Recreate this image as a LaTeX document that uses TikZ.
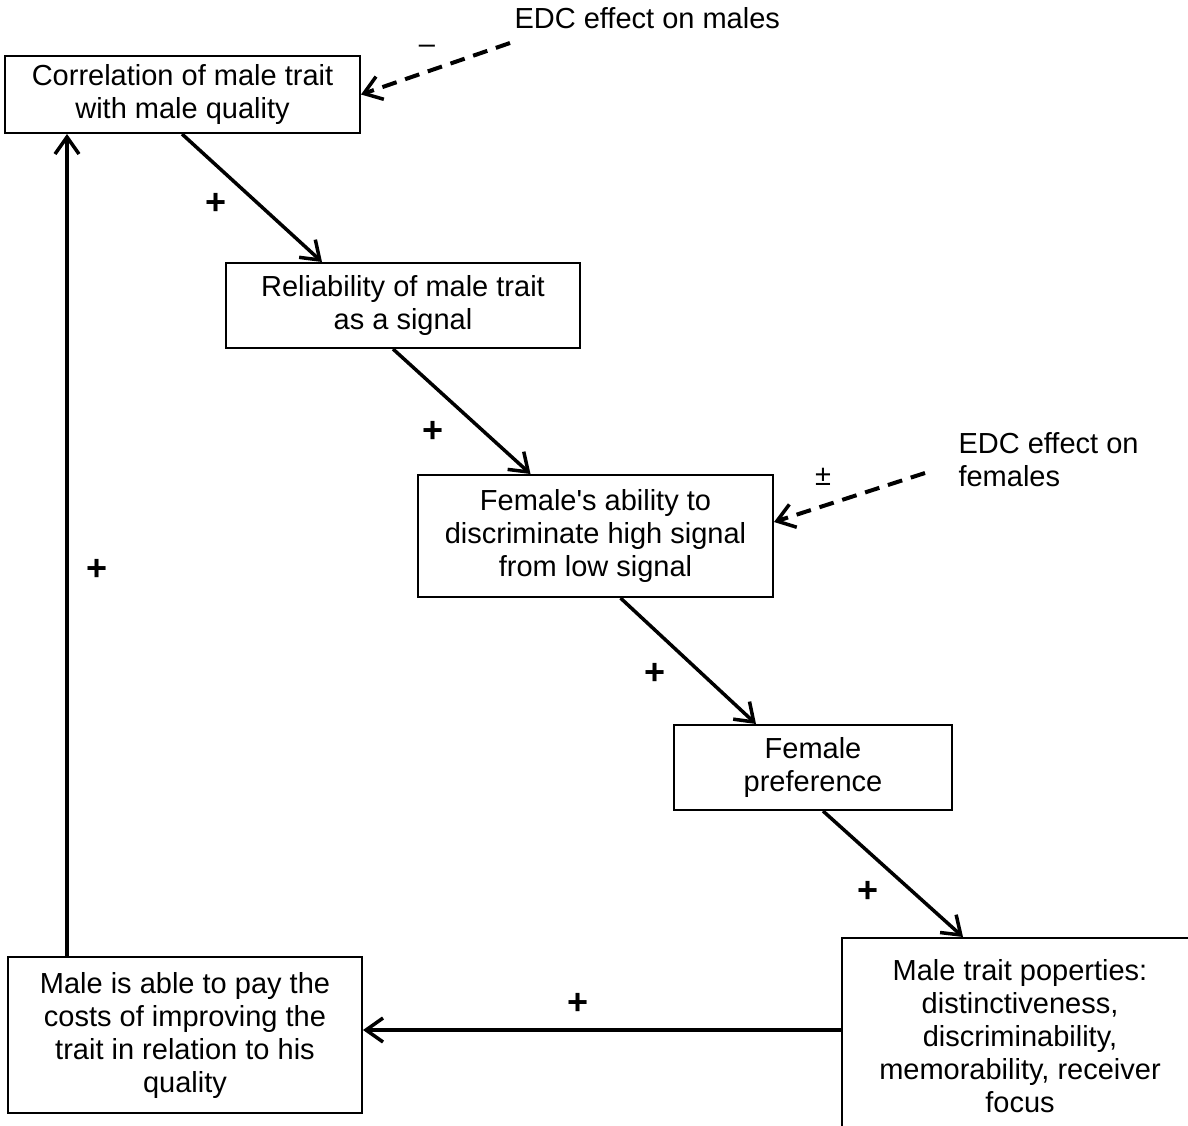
\documentclass[tikz,border=0pt]{standalone}
\usepackage{fontspec}
\setmainfont{Liberation Sans}[Ligatures=TeXOff]
\usetikzlibrary{arrows.meta,positioning}
\definecolor{ink}{HTML}{000000}
\tikzset{
  box/.style={draw=ink,line width=2pt,fill=white,inner sep=0pt,align=center,font=\fontsize{29}{33}\selectfont,text=ink},
  plain/.style={align=center,font=\fontsize{29}{33}\selectfont,text=ink},
  sign/.style={align=center,font=\fontsize{36}{40}\selectfont\bfseries,text=ink},
  ar/.style={-{Straight Barb[length=17pt,width=24pt,line width=3.5pt]},draw=ink,line width=3.5pt},
  arm/.style={ar,line width=4pt,dash pattern=on 15pt off 9pt},
}
\begin{document}
\begin{tikzpicture}[x=1pt,y=-1pt]
  \useasboundingbox (0,0) rectangle (1188,1126);
  \clip (0,0) rectangle (1188,1126);
  \node[box,minimum width=355pt,minimum height=77pt] (corr) at (182.5,94.5) {Correlation of male trait\\with male quality};
  \node[box,minimum width=354pt,minimum height=85pt] (reli) at (403,305.5) {Reliability of male trait\\as a signal};
  \node[box,minimum width=355pt,minimum height=122pt] (disc) at (595.5,536) {Female's ability to\\discriminate high signal\\from low signal};
  \node[box,minimum width=278pt,minimum height=85pt] (pref) at (813,767.5) {Female\\preference};
  \node[box,minimum width=356pt,minimum height=196pt] (prop) at (1020,1036) {Male trait poperties:\\distinctiveness,\\discriminability,\\memorability, receiver\\focus};
  \node[box,minimum width=354pt,minimum height=156pt] (cost) at (185,1035) {Male is able to pay the\\costs of improving the\\trait in relation to his\\quality};
  % EDC inputs
  \node[plain,anchor=west] (edcm) at (511,18) {EDC effect on males};
  \node[plain,anchor=west,align=left] (edcf) at (955,459.5) {EDC effect on\\females};
  \coordinate (m0) at (510,43);
  \coordinate (f0) at (925,473);
  \draw[arm] (m0) -- (corr.east);
  \draw[arm] (f0) -- ([yshift=14pt]disc.east);
  \node[plain] (sm) at (427,49) {–};
  \node[plain] (sf) at (823,477) {±};
  % causal chain
  \draw[ar] ([xshift=-0.5pt]corr.south) -- node[sign,pos=.55,xshift=-43pt] (p1) {+} ([xshift=-81pt]reli.north);
  \draw[ar] ([xshift=-10pt]reli.south) -- node[sign,pos=.66,xshift=-51pt] (p2) {+} ([xshift=-65pt]disc.north);
  \draw[ar] ([xshift=25pt]disc.south) -- node[sign,pos=.6,xshift=-47pt] (p3) {+} ([xshift=-57pt]pref.north);
  \draw[ar] ([xshift=10pt]pref.south) -- node[sign,pos=.64,xshift=-45pt] (p4) {+} ([xshift=-57pt]prop.north);
  \draw[ar] (prop.west |- 0,1030) -- node[sign,pos=.55,yshift=26pt] (p5) {+} (cost.east |- 0,1030);
  \draw[ar] ([xshift=-118pt]cost.north) -- node[sign,pos=.47,xshift=30pt] (p6) {+} ([xshift=-118pt]cost.north |- corr.south);
\end{tikzpicture}
\end{document}
